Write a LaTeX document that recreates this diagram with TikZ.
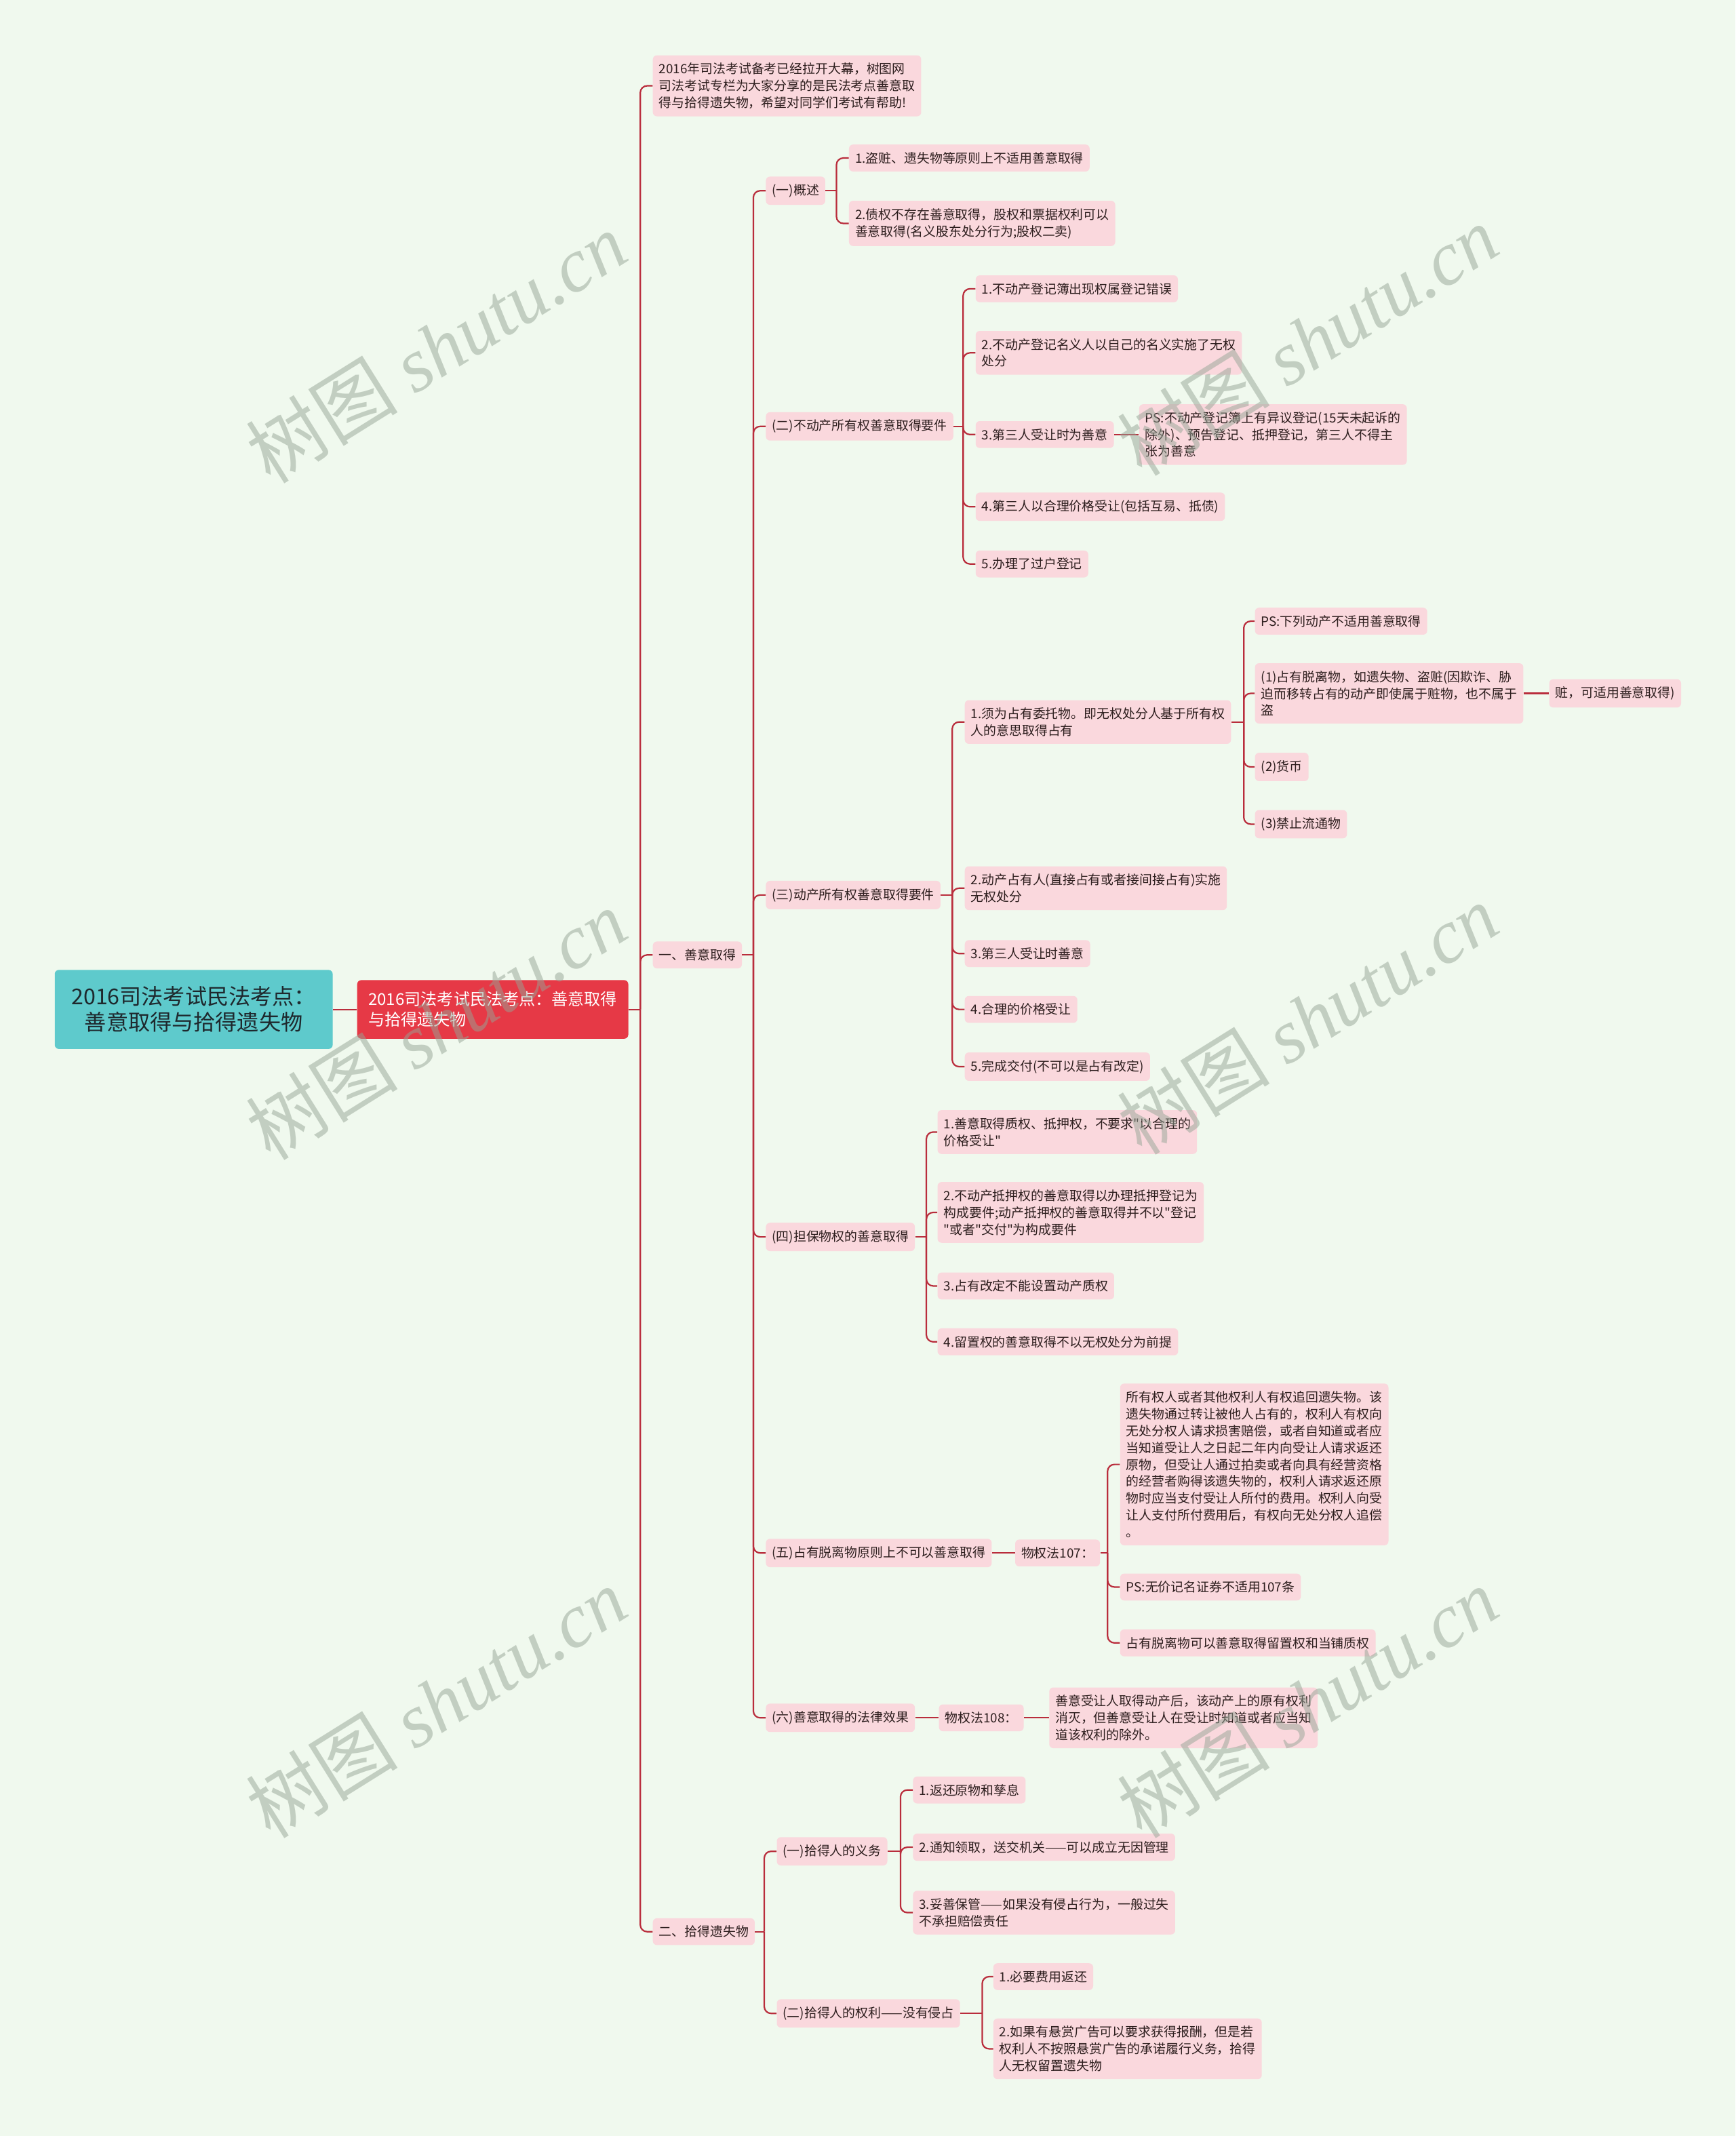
\documentclass[tikz,border=0pt]{standalone}
\usepackage{fontspec}
\setmainfont{Noto Sans CJK SC}[Ligatures=TeXOff]
\newfontfamily\wmserif{Liberation Serif}
\definecolor{bgc}{RGB}{240,249,238}
\definecolor{leafc}{RGB}{250,216,221}
\definecolor{txtc}{RGB}{45,30,30}
\definecolor{linec}{RGB}{185,45,60}
\definecolor{rootc}{RGB}{94,202,204}
\definecolor{titlec}{RGB}{230,57,70}
\definecolor{wmc}{RGB}{150,165,150}
\begin{document}
\begin{tikzpicture}[x=1pt,y=-1pt,
    leaf/.style={fill=leafc, text=txtc, rounded corners=3pt, inner xsep=4.5pt, inner ysep=5.5pt,
        align=left, anchor=west, font=\fontsize{9.4}{12.4}\selectfont},
    link/.style={draw=linec, line width=1.1pt, rounded corners=5pt},
    wm/.style={text=wmc, text opacity=.5, rotate=32, font=\fontsize{56}{60}\selectfont}]
\useasboundingbox[fill=bgc] (0,0) rectangle (1274,1568);

% centre
\node[fill=rootc, text={rgb,255:red,30;green,40;blue,45}, rounded corners=3pt, anchor=west,
    minimum width=204pt, minimum height=58pt, align=center, font=\fontsize{16}{19}\selectfont]
    (root) at (40,741) {2016司法考试民法考点：\\善意取得与拾得遗失物};
\node[fill=titlec, text=white, rounded corners=3pt, anchor=west, inner xsep=5pt,
    minimum width=199pt, minimum height=43pt, align=left, font=\fontsize{12}{15}\selectfont]
    (title) at (262,741) {2016司法考试民法考点：善意取得\\与拾得遗失物};

\node[leaf] (intro) at (479,63) {2016年司法考试备考已经拉开大幕，树图网\\司法考试专栏为大家分享的是民法考点善意取\\得与拾得遗失物，希望对同学们考试有帮助!};
\node[leaf] (sa) at (479,701) {一、善意取得};
\node[leaf] (sb) at (479,1418) {二、拾得遗失物};

% 一、善意取得
\node[leaf] (a1) at (562,140) {(一)概述};
\node[leaf] (a11) at (623,116) {1.盗赃、遗失物等原则上不适用善意取得};
\node[leaf] (a12) at (623,164) {2.债权不存在善意取得，股权和票据权利可以\\善意取得(名义股东处分行为;股权二卖)};

\node[leaf] (a2) at (562,313) {(二)不动产所有权善意取得要件};
\node[leaf] (a21) at (716,212) {1.不动产登记簿出现权属登记错误};
\node[leaf] (a22) at (716,259) {2.不动产登记名义人以自己的名义实施了无权\\处分};
\node[leaf] (a23) at (716,319) {3.第三人受让时为善意};
\node[leaf] (a23p) at (836,319) {PS:不动产登记簿上有异议登记(15天未起诉的\\除外)、预告登记、抵押登记，第三人不得主\\张为善意};
\node[leaf] (a24) at (716,372) {4.第三人以合理价格受让(包括互易、抵债)};
\node[leaf] (a25) at (716,414) {5.办理了过户登记};

\node[leaf] (a3) at (562,657) {(三)动产所有权善意取得要件};
\node[leaf] (a31) at (708,530) {1.须为占有委托物。即无权处分人基于所有权\\人的意思取得占有};
\node[leaf] (a311) at (921,456) {PS:下列动产不适用善意取得};
\node[leaf] (a312) at (921,509) {(1)占有脱离物，如遗失物、盗赃(因欺诈、胁\\迫而移转占有的动产即使属于赃物，也不属于\\盗};
\node[leaf] (a312x) at (1137,509) {赃，可适用善意取得)};
\node[leaf] (a313) at (921,563) {(2)货币};
\node[leaf] (a314) at (921,605) {(3)禁止流通物};
\node[leaf] (a32) at (708,652) {2.动产占有人(直接占有或者接间接占有)实施\\无权处分};
\node[leaf] (a33) at (708,700) {3.第三人受让时善意};
\node[leaf] (a34) at (708,741) {4.合理的价格受让};
\node[leaf] (a35) at (708,783) {5.完成交付(不可以是占有改定)};

\node[leaf] (a4) at (562,908) {(四)担保物权的善意取得};
\node[leaf] (a41) at (688,831) {1.善意取得质权、抵押权，不要求"以合理的\\价格受让"};
\node[leaf] (a42) at (688,890) {2.不动产抵押权的善意取得以办理抵押登记为\\构成要件;动产抵押权的善意取得并不以"登记\\"或者"交付"为构成要件};
\node[leaf] (a43) at (688,944) {3.占有改定不能设置动产质权};
\node[leaf] (a44) at (688,985) {4.留置权的善意取得不以无权处分为前提};

\node[leaf] (a5) at (562,1140) {(五)占有脱离物原则上不可以善意取得};
\node[leaf] (a5l) at (745,1140) {物权法107：};
\node[leaf] (a5l1) at (822,1075) {所有权人或者其他权利人有权追回遗失物。该\\遗失物通过转让被他人占有的，权利人有权向\\无处分权人请求损害赔偿，或者自知道或者应\\当知道受让人之日起二年内向受让人请求返还\\原物，但受让人通过拍卖或者向具有经营资格\\的经营者购得该遗失物的，权利人请求返还原\\物时应当支付受让人所付的费用。权利人向受\\让人支付所付费用后，有权向无处分权人追偿\\。};
\node[leaf] (a5l2) at (822,1165) {PS:无价记名证券不适用107条};
\node[leaf] (a5l3) at (822,1206) {占有脱离物可以善意取得留置权和当铺质权};

\node[leaf] (a6) at (562,1261) {(六)善意取得的法律效果};
\node[leaf] (a6l) at (689,1261) {物权法108：};
\node[leaf] (a6l1) at (770,1261) {善意受让人取得动产后，该动产上的原有权利\\消灭，但善意受让人在受让时知道或者应当知\\道该权利的除外。};

% 二、拾得遗失物
\node[leaf] (b1) at (570,1359) {(一)拾得人的义务};
\node[leaf] (b11) at (670,1314) {1.返还原物和孳息};
\node[leaf] (b12) at (670,1356) {2.通知领取，送交机关——可以成立无因管理};
\node[leaf] (b13) at (670,1404) {3.妥善保管——如果没有侵占行为，一般过失\\不承担赔偿责任};
\node[leaf] (b2) at (570,1478) {(二)拾得人的权利——没有侵占};
\node[leaf] (b21) at (729,1451) {1.必要费用返还};
\node[leaf] (b22) at (729,1504) {2.如果有悬赏广告可以要求获得报酬，但是若\\权利人不按照悬赏广告的承诺履行义务，拾得\\人无权留置遗失物};

% connectors
\coordinate (j0) at (470,741);
\coordinate (j1) at (553,701);
\coordinate (ja1) at (614,140);
\coordinate (ja2) at (707,313);
\coordinate (ja3) at (699,657);
\coordinate (ja31) at (913,530);
\coordinate (ja4) at (680,908);
\coordinate (ja5) at (813,1140);
\coordinate (j2) at (561,1418);
\coordinate (jb1) at (661,1359);
\coordinate (jb2) at (721,1478);

\draw[link] (root.east) -- (title.west);
\draw[link] (title.east) -- (j0);
\foreach \c in {intro,sa,sb} \draw[link] (j0) |- (\c.west);
\draw[link] (sa.east) -- (j1);
\foreach \c in {a1,a2,a3,a4,a5,a6} \draw[link] (j1) |- (\c.west);
\draw[link] (a1.east) -- (ja1);
\foreach \c in {a11,a12} \draw[link] (ja1) |- (\c.west);
\draw[link] (a2.east) -- (ja2);
\foreach \c in {a21,a22,a23,a24,a25} \draw[link] (ja2) |- (\c.west);
\draw[link] (a23.east) -- (a23p.west);
\draw[link] (a3.east) -- (ja3);
\foreach \c in {a31,a32,a33,a34,a35} \draw[link] (ja3) |- (\c.west);
\draw[link] (a31.east) -- (ja31);
\foreach \c in {a311,a312,a313,a314} \draw[link] (ja31) |- (\c.west);
\draw[link] (a312.east) -- (a312x.west);
\draw[link] (a4.east) -- (ja4);
\foreach \c in {a41,a42,a43,a44} \draw[link] (ja4) |- (\c.west);
\draw[link] (a5.east) -- (a5l.west);
\draw[link] (a5l.east) -- (ja5);
\foreach \c in {a5l1,a5l2,a5l3} \draw[link] (ja5) |- (\c.west);
\draw[link] (a6.east) -- (a6l.west);
\draw[link] (a6l.east) -- (a6l1.west);
\draw[link] (sb.east) -- (j2);
\foreach \c in {b1,b2} \draw[link] (j2) |- (\c.west);
\draw[link] (b1.east) -- (jb1);
\foreach \c in {b11,b12,b13} \draw[link] (jb1) |- (\c.west);
\draw[link] (b2.east) -- (jb2);
\foreach \c in {b21,b22} \draw[link] (jb2) |- (\c.west);

% watermark
\foreach \wx/\wy [count=\i] in {320/255,960/250,320/752,960/748,320/1250,960/1250}
  \node[wm] (wm\i) at (\wx,\wy) {树图 {\wmserif\itshape shutu.cn}};
\end{tikzpicture}
\end{document}
